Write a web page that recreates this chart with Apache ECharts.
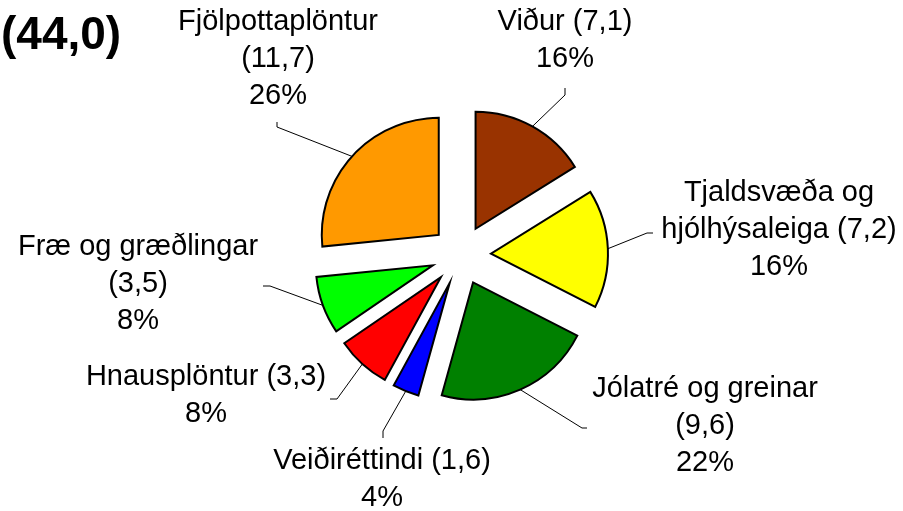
<!DOCTYPE html>
<html>
<head>
<meta charset="utf-8">
<script src="https://cdn.jsdelivr.net/npm/echarts@6/dist/echarts.min.js"></script>
<style>
  html, body { margin: 0; padding: 0; background: #fff; }
  #chart { width: 903px; height: 511px; }
</style>
</head>
<body>
<div id="chart"></div>
<script>
// flokkar, réttsælis frá kl. 12
var categories = ['Viður', 'Tjaldsvæða og\nhjólhýsaleiga', 'Jólatré og greinar', 'Veiðiréttindi', 'Hnausplöntur', 'Fræ og græðlingar', 'Fjölpottaplöntur'];
var values = [7.1, 7.2, 9.6, 1.6, 3.3, 3.5, 11.7];
var percents = [16, 16, 22, 4, 8, 8, 26];
var colors = ['#993300', '#FFFF00', '#008000', '#0000FF', '#FF0000', '#00FF00', '#FF9900'];
// bil milli nafns og gildis (bil eða ný lína)
var nameSep = [' ', ' ', '\n', ' ', ' ', '\n', '\n'];
// miðja merkimiða og endi tengilínu (beygja, endapunktur)
var labelPos = [[565, 40], [779, 230], [705, 426], [382, 479], [206, 395], [138, 284], [278, 59]];
var lineEnds = [
  [[565, 95], [565, 88]],
  [[647, 233], [653, 233]],
  [[582, 428], [587, 428]],
  [[383, 431], [383, 438]],
  [[337, 399], [330, 399]],
  [[270, 286], [263, 286]],
  [[277, 127], [277, 122]]
];
var explode = 30;

var total = values.reduce(function (a, b) { return a + b; }, 0);
function fmt(v) { return v.toFixed(1).replace('.', ','); }

var chart = echarts.init(document.getElementById('chart'));
var font = 'Liberation Sans, Arial, sans-serif';

var data = categories.map(function (name, i) {
  return {
    name: name,
    value: values[i],
    selected: true,
    itemStyle: { color: colors[i] },
    select: { itemStyle: { color: colors[i], borderColor: '#000', borderWidth: 2 } }
  };
});

chart.setOption({
  animation: false,
  title: {
    text: '(' + fmt(total) + ')',
    left: -4,
    top: 8,
    textStyle: { fontFamily: font, fontSize: 46, fontWeight: 'bold', color: '#000' }
  },
  series: [{
    type: 'pie',
    center: [461, 255],
    radius: 117,
    startAngle: 90,
    clockwise: true,
    selectedMode: 'multiple',
    selectedOffset: explode,
    emphasis: { disabled: true },
    itemStyle: { borderColor: '#000', borderWidth: 2, borderJoin: 'miter' },
    label: { show: false },
    labelLine: { show: false },
    data: data
  }]
});

// merkimiðar og tengilínur út frá útreiknuðum geirum
var seriesData = chart.getModel().getSeriesByIndex(0).getData();
var graphics = [];
categories.forEach(function (name, i) {
  var lay = seriesData.getItemLayout(i);
  var mid = (lay.startAngle + lay.endAngle) / 2;
  var dx = Math.cos(mid), dy = Math.sin(mid);
  var edge = [lay.cx + (explode + lay.r) * dx, lay.cy + (explode + lay.r) * dy];
  graphics.push({
    type: 'polyline',
    silent: true,
    shape: { points: [edge, lineEnds[i][0], lineEnds[i][1]] },
    style: { stroke: '#000', lineWidth: 1, fill: null }
  });
  graphics.push({
    type: 'text',
    silent: true,
    x: labelPos[i][0],
    y: labelPos[i][1],
    style: {
      text: name + nameSep[i] + '(' + fmt(values[i]) + ')\n' + percents[i] + '%',
      fontFamily: font,
      fontSize: 29,
      lineHeight: 37,
      fill: '#000',
      align: 'center',
      verticalAlign: 'middle'
    }
  });
});
chart.setOption({ graphic: graphics });
</script>
</body>
</html>
